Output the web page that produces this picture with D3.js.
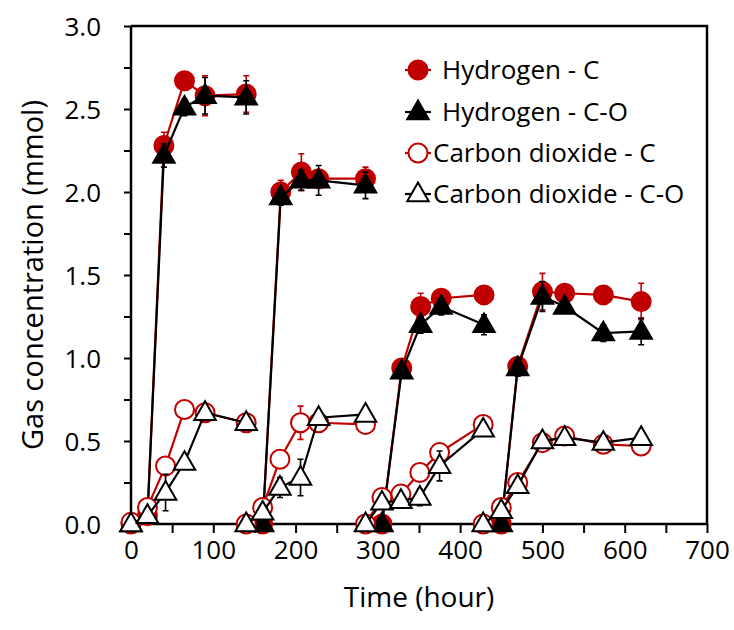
<!DOCTYPE html>
<html>
<head>
<meta charset="utf-8">
<script src="https://cdn.jsdelivr.net/npm/d3@7"></script>
<style>
  html, body { margin: 0; padding: 0; background: #ffffff; }
  svg { display: block; }
  text { font-family: "Open Sans", "Noto Sans", sans-serif; fill: #000; }
</style>
</head>
<body>
<svg id="chart" width="734" height="630"></svg>
<script>
// Hydrogen sampling times (hours) and the batch each point belongs to
const h2Time = [0, 20, 40, 65, 90, 140, 160, 182, 207, 228, 285, 305, 329, 352, 377, 429, 450, 470, 500, 527, 574, 620];
const h2Batch = [1, 1, 1, 1, 1, 1, 2, 2, 2, 2, 2, 3, 3, 3, 3, 3, 4, 4, 4, 4, 4, 4];
const h2C = [0, 0.05, 2.28, 2.67, 2.58, 2.59, 0, 2.00, 2.12, 2.08, 2.08, 0, 0.94, 1.31, 1.36, 1.38, 0, 0.95, 1.40, 1.39, 1.38, 1.34];
const h2CErr = [0, 0, 0.08, 0.03, 0.12, 0.11, 0, 0.07, 0.11, 0.04, 0.07, 0, 0.03, 0.08, 0.04, 0.03, 0, 0.03, 0.11, 0.03, 0.03, 0.11];
const h2CO = [0, 0.05, 2.22, 2.51, 2.58, 2.57, 0, 1.97, 2.07, 2.07, 2.04, 0, 0.92, 1.20, 1.31, 1.20, 0, 0.94, 1.37, 1.31, 1.15, 1.16];
const h2COErr = [0, 0, 0.07, 0.05, 0.11, 0.10, 0, 0.05, 0.06, 0.09, 0.08, 0, 0.03, 0.05, 0.05, 0.06, 0, 0.05, 0.09, 0.04, 0.05, 0.08];

// Carbon dioxide sampling times (hours) and batches
const co2Time = [0, 20, 42, 65, 90, 140, 140, 160, 181, 206, 228, 285, 285, 305, 328, 351, 375, 428, 428, 450, 470, 500, 527, 574, 620];
const co2Batch = [1, 1, 1, 1, 1, 1, 2, 2, 2, 2, 2, 2, 3, 3, 3, 3, 3, 3, 4, 4, 4, 4, 4, 4, 4];
const co2C = [0.01, 0.10, 0.35, 0.69, 0.67, 0.61, 0, 0.10, 0.39, 0.61, 0.61, 0.60, 0, 0.16, 0.18, 0.31, 0.43, 0.60, 0, 0.10, 0.25, 0.49, 0.53, 0.48, 0.47];
const co2CErr = [0, 0.02, 0.03, 0.02, 0.03, 0.03, 0, 0.02, 0.03, 0.10, 0.03, 0.03, 0, 0.03, 0.02, 0.02, 0.03, 0.02, 0, 0.02, 0.02, 0.02, 0.02, 0.02, 0.02];
const co2CO = [0, 0.05, 0.19, 0.37, 0.67, 0.61, 0, 0.07, 0.22, 0.28, 0.64, 0.66, 0, 0.13, 0.14, 0.16, 0.35, 0.57, 0, 0.08, 0.23, 0.50, 0.52, 0.49, 0.52];
const co2COErr = [0, 0.02, 0.11, 0.03, 0.03, 0.03, 0, 0.02, 0.06, 0.11, 0.03, 0.03, 0, 0.02, 0.02, 0.05, 0.09, 0.03, 0, 0.02, 0.02, 0.03, 0.02, 0.02, 0.03];

const seriesNames = ["Hydrogen - C", "Hydrogen - C-O", "Carbon dioxide - C", "Carbon dioxide - C-O"];
const xTicks = [0, 100, 200, 300, 400, 500, 600, 700];
const yTicks = [0, 0.5, 1.0, 1.5, 2.0, 2.5, 3.0];

const RED = "#c00000";
const svg = d3.select("#chart");

const x = d3.scaleLinear().domain([0, 700]).range([131, 707]);
const y = d3.scaleLinear().domain([0, 3]).range([524, 26]);

// plot frame (top and right)
svg.append("path")
  .attr("d", `M${x(0)},${y(3)}H${x(700)}V${y(0)}`)
  .attr("fill", "none").attr("stroke", "#000").attr("stroke-width", 2.5);

// minor ticks every 50 h and every 0.25 mmol
const xMinor = d3.range(0, 701, 50);
const yMinor = d3.range(0, 3.001, 0.25);

const xAxis = svg.append("g").attr("transform", `translate(0,${y(0)})`)
  .call(d3.axisBottom(x).tickValues(xMinor).tickSize(9)
    .tickFormat(d => xTicks.includes(d) ? d3.format("d")(d) : ""));
const yAxis = svg.append("g").attr("transform", `translate(${x(0)},0)`)
  .call(d3.axisLeft(y).tickValues(yMinor).tickSize(7)
    .tickFormat(d => yTicks.some(t => Math.abs(t - d) < 1e-9) ? d3.format(".1f")(d) : ""));

[xAxis, yAxis].forEach(g => {
  g.attr("font-family", null).attr("font-size", null);
  g.select(".domain").attr("stroke", "#000").attr("stroke-width", 2.5);
  g.selectAll(".tick line").attr("stroke", "#000").attr("stroke-width", 2);
  g.selectAll(".tick text").style("font-size", "26px").attr("fill", "#000");
});
xAxis.select(".domain").attr("d", `M${x(0)},0H${x(700)}`);
yAxis.select(".domain").attr("d", `M0,${y(0)}V${y(3)}`);
xAxis.selectAll(".tick text").attr("y", 17);
yAxis.selectAll(".tick text").attr("x", -30).attr("dy", "0.35em");

// axis titles
svg.append("text")
  .attr("x", 419).attr("y", 607)
  .attr("text-anchor", "middle").style("font-size", "28px")
  .text("Time (hour)");
svg.append("text")
  .attr("transform", "translate(43,275) rotate(-90)")
  .attr("text-anchor", "middle").style("font-size", "29px")
  .text("Gas concentration (mmol)");

function rows(time, batch, val, err) {
  return time.map((t, i) => ({ t, b: batch[i], v: val[i], e: err[i] }));
}

const triPath = d3.symbol().type(d3.symbolTriangle).size(200)();

const series = [
  { data: rows(h2Time, h2Batch, h2C, h2CErr), stroke: RED, marker: "circle", fill: RED },
  { data: rows(h2Time, h2Batch, h2CO, h2COErr), stroke: "#000", marker: "triangle", fill: "#000" },
  { data: rows(co2Time, co2Batch, co2C, co2CErr), stroke: RED, marker: "circle", fill: "#fff" },
  { data: rows(co2Time, co2Batch, co2CO, co2COErr), stroke: "#000", marker: "triangle", fill: "#fff" }
];

const line = d3.line().x(d => x(d.t)).y(d => y(d.v));

function drawMarker(g, kind, fill, stroke) {
  if (kind === "circle") {
    g.append("circle").attr("r", 9.5).attr("fill", fill).attr("stroke", stroke).attr("stroke-width", 2);
  } else {
    g.append("path").attr("d", triPath).attr("transform", "translate(0,1)")
      .attr("fill", fill).attr("stroke", "#000").attr("stroke-width", 2).attr("stroke-linejoin", "miter");
  }
}

series.forEach(s => {
  const g = svg.append("g");
  d3.groups(s.data, d => d.b).forEach(([, pts]) => {
    g.append("path").attr("d", line(pts))
      .attr("fill", "none").attr("stroke", s.stroke).attr("stroke-width", 2.2);
  });
  // error bars
  s.data.filter(d => d.e > 0).forEach(d => {
    const cx = x(d.t), y1 = y(d.v + d.e), y2 = y(d.v - d.e);
    g.append("path")
      .attr("d", `M${cx},${y1}V${y2}M${cx - 3},${y1}H${cx + 3}M${cx - 3},${y2}H${cx + 3}`)
      .attr("fill", "none").attr("stroke", s.stroke).attr("stroke-width", 1.6);
  });
  s.data.forEach(d => {
    const m = g.append("g").attr("transform", `translate(${x(d.t)},${y(d.v)})`);
    drawMarker(m, s.marker, s.fill, s.stroke);
  });
});

// legend
const legendRows = [70, 112, 153, 194];
const legendTextX = [442, 442, 433, 433];
series.forEach((s, i) => {
  const g = svg.append("g").attr("transform", `translate(418,${legendRows[i]})`);
  g.append("line").attr("x1", -13).attr("x2", 13).attr("stroke", s.stroke).attr("stroke-width", 2.2);
  drawMarker(g, s.marker, s.fill, s.stroke);
  svg.append("text").attr("x", legendTextX[i]).attr("y", legendRows[i])
    .attr("dy", "0.35em").style("font-size", "26px").text(seriesNames[i]);
});
</script>
</body>
</html>
